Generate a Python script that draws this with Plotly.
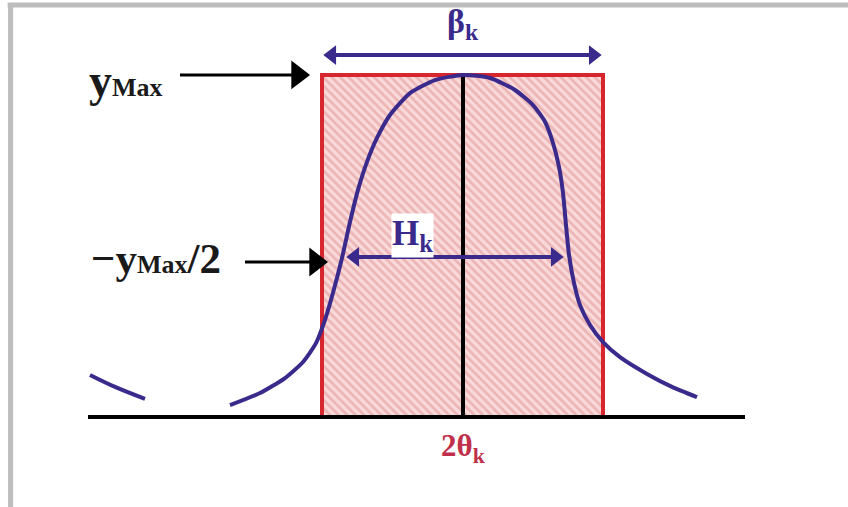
import plotly.graph_objects as go

# Peak profile (2θ offset from the peak centre, normalised intensity)
peak_x = [-2.33, -2.03, -1.78, -1.60, -1.47, -1.38, -1.30, -1.21, -1.13, -1.05, -0.96,
          -0.86, -0.73, -0.53, -0.28, 0.0, 0.27, 0.52, 0.70, 0.82, 0.90, 0.96, 1.00,
          1.03, 1.06, 1.11, 1.17, 1.27, 1.40, 1.57, 1.84, 2.09, 2.34]
peak_y = [0.035, 0.070, 0.114, 0.161, 0.216, 0.284, 0.363, 0.465, 0.570, 0.664, 0.746,
          0.816, 0.883, 0.947, 0.985, 1.0, 0.991, 0.956, 0.912, 0.863, 0.801, 0.731, 0.655,
          0.561, 0.474, 0.392, 0.327, 0.269, 0.219, 0.175, 0.126, 0.088, 0.058]

# Tail of the neighbouring reflection
tail_x = [-3.73, -3.48, -3.18]
tail_y = [0.123, 0.088, 0.053]

# Integral-breadth rectangle and reference levels
y_max = 1.0
beta_left, beta_right = -1.41, 1.40
beta_arrow_y = 1.058
half_level = 0.468
fwhm_left, fwhm_right = -1.18, 1.02
baseline_x = [-3.75, 2.82]
ymax_arrow_x = [-2.83, -1.51]
half_arrow_x = [-2.18, -1.33]
half_arrow_y = 0.453

CURVE = "#3a2a8c"
RED = "#d8262e"
SERIF = "Liberation Serif, Times New Roman, serif"
PX = 0.01  # x-axis units per pixel

fig = go.Figure()

# hatched rectangle of equal area
fig.add_trace(go.Scatter(
    x=[beta_left, beta_right, beta_right, beta_left, beta_left],
    y=[0, 0, y_max, y_max, 0],
    mode="lines", fill="toself",
    fillcolor="#f6d3d3",
    fillpattern=dict(shape="\\", bgcolor="#f8dada", fgcolor="#e08e8e",
                     size=6, solidity=0.45),
    line=dict(color=RED, width=4),
    hoverinfo="skip", showlegend=False,
))

# centre line
fig.add_trace(go.Scatter(x=[0, 0], y=[0, y_max], mode="lines",
                         line=dict(color="black", width=4),
                         hoverinfo="skip", showlegend=False))

# baseline
fig.add_trace(go.Scatter(x=baseline_x, y=[0, 0], mode="lines",
                         line=dict(color="black", width=4),
                         hoverinfo="skip", showlegend=False))

# peak profiles
fig.add_trace(go.Scatter(x=peak_x, y=peak_y, mode="lines",
                         line=dict(color=CURVE, width=4, shape="spline", smoothing=0.6),
                         hoverinfo="skip", showlegend=False))
fig.add_trace(go.Scatter(x=tail_x, y=tail_y, mode="lines",
                         line=dict(color=CURVE, width=4, shape="spline"),
                         hoverinfo="skip", showlegend=False))


def arrow(x0, x1, y, color, both=False, width=4, head=16):
    """Horizontal arrow from x0 to x1; triangle heads end exactly at the tips."""
    off = head / 3 ** 0.5 * PX
    xs0 = x0 + off if both else x0
    xs1 = x1 - off
    fig.add_trace(go.Scatter(x=[xs0, xs1], y=[y, y], mode="lines",
                             line=dict(color=color, width=width),
                             hoverinfo="skip", showlegend=False))
    hx = [xs1] + ([xs0] if both else [])
    sym = ["triangle-right"] + (["triangle-left"] if both else [])
    fig.add_trace(go.Scatter(x=hx, y=[y] * len(hx), mode="markers",
                             marker=dict(symbol=sym, size=head, color=color,
                                         line=dict(width=0)),
                             hoverinfo="skip", showlegend=False))


arrow(beta_left, beta_right, beta_arrow_y, CURVE, both=True, head=17)
arrow(fwhm_left, fwhm_right, half_level, CURVE, both=True, head=17)
arrow(ymax_arrow_x[0], ymax_arrow_x[1], y_max, "black", width=3, head=25)
arrow(half_arrow_x[0], half_arrow_x[1], half_arrow_y, "black", width=3, head=25)


def label(x, y, text, color, size, **kw):
    fig.add_annotation(x=x, y=y, xref="x", yref="y", text=text, showarrow=False,
                       font=dict(family=SERIF, size=size, color=color), **kw)


label(0, 1.15, "<b>β<sub>k</sub></b>", CURVE, 34)
label(-3.37, 0.985, "<b>y<span style='font-size:26px'>Max</span></b>", "#1a1a1a", 46)
label(-3.07, 0.462, "<b>−y<span style='font-size:26px'>Max</span>/2</b>", "#1a1a1a", 43)
label(0, -0.09, "<b>2θ<sub>k</sub></b>", "#c0304a", 31)
label(-0.51, 0.53, "<b>H<sub>k</sub></b>", CURVE, 35, bgcolor="white", borderpad=0)

# frame edges
fig.add_shape(type="line", xref="paper", yref="paper", x0=0.009, x1=1, y0=0.99, y1=0.99,
              line=dict(color="#bdbdbd", width=5))
fig.add_shape(type="line", xref="paper", yref="paper", x0=0.0125, x1=0.0125, y0=0, y1=0.993,
              line=dict(color="#bdbdbd", width=5))

fig.update_xaxes(range=[-4.63, 3.85], visible=False)
fig.update_yaxes(range=[-0.263, 1.219], visible=False)
fig.update_layout(width=848, height=507, margin=dict(l=0, r=0, t=0, b=0),
                  plot_bgcolor="white", paper_bgcolor="white")

fig.write_html("out.html")
